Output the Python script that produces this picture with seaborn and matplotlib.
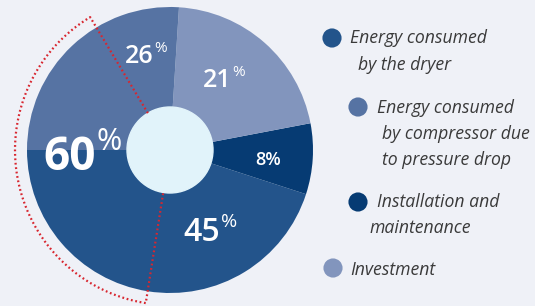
import numpy as np
import pandas as pd
import seaborn as sns
import matplotlib.pyplot as plt

# slice data, counter-clockwise from the left horizontal
labels = ["Energy consumed by the dryer", "Installation and maintenance",
          "Investment", "Energy consumed by compressor due to pressure drop"]
shares = [45, 8, 21, 26]
colors = ["#23548b", "#063b73", "#8295bd", "#5673a3"]

# share of the highlighted group (dryer + compressor part)
group_share = 60

# legend rows (text lines, in reference order)
legend_lines = [
    ["Energy consumed", "by the dryer"],
    ["Energy consumed", "by compressor due", "to pressure drop"],
    ["Installation and", "maintenance"],
    ["Investment"],
]
legend_colors = ["#23548b", "#5673a3", "#063b73", "#8295bd"]

sns.set_theme(style="white")
plt.rcParams["font.family"] = ["Open Sans", "DejaVu Sans"]

bg = "#eff1f7"
fig = plt.figure(figsize=(5.35, 3.06), dpi=100)
fig.patch.set_facecolor(bg)
ax = fig.add_axes([0, 0, 1, 1])
ax.set_facecolor(bg)

cx, cy, R = 170, 156, 143
wedges, _ = ax.pie(shares, colors=colors, startangle=180, counterclock=True,
                   center=(cx, cy), radius=R, frame=True,
                   wedgeprops=dict(linewidth=0))
ax.add_patch(plt.Circle((cx, cy), 43, color="#e1f3fa", zorder=3))

# red dotted outline of the 60 % group
red = "#d8262f"
a0, a1, r_in, r_out = 121, 261, 43, 155
th = np.radians(np.linspace(a0, a1, 200))
xs = np.concatenate([[cx + r_in * np.cos(th[0])], cx + r_out * np.cos(th),
                     [cx + r_in * np.cos(th[-1])]])
ys = np.concatenate([[cy + r_in * np.sin(th[0])], cy + r_out * np.sin(th),
                     [cy + r_in * np.sin(th[-1])]])
ax.plot(xs, ys, color=red, lw=1.6, linestyle=(0, (0.8, 1.2)), zorder=4)

# percent labels: (value, x of right edge of number, baseline y, size, pct size, weight)
pct_specs = [
    (shares[3], 153, 306 - 63, 18, 11, "semibold"),
    (shares[2], 231, 306 - 87, 18, 11, "semibold"),
    (shares[0], 220, 306 - 241, 23, 14, "semibold"),
    (group_share, 96, 306 - 170, 33, 22, "bold"),
]
for val, x, y, fs, ps, w in pct_specs:
    ax.text(x, y, f"{val}", color="white", fontsize=fs, fontweight=w,
            ha="right", va="baseline", zorder=5)
    ax.text(x + 1, y + fs * 0.6, "%", color="white", fontsize=ps,
            ha="left", va="baseline", zorder=5)
ax.text(281, 306 - 165, f"{shares[1]}%", color="white", fontsize=13,
        fontweight="semibold", ha="right", va="baseline", zorder=5)

# legend
dot_pos = [(332, 306 - 38), (358, 306 - 107), (358, 306 - 202), (333, 306 - 268)]
text_pos = [
    [(350, 306 - 43), (358, 306 - 70)],
    [(377, 306 - 113), (382, 306 - 139), (382, 306 - 165)],
    [(377, 306 - 207), (369, 306 - 233)],
    [(350, 306 - 275)],
]
dots = pd.DataFrame({"x": [p[0] for p in dot_pos], "y": [p[1] for p in dot_pos],
                     "c": legend_colors})
sns.scatterplot(data=dots, x="x", y="y", hue="c", palette=dict(zip(legend_colors, legend_colors)),
                s=190, edgecolor="none", legend=False, ax=ax, zorder=5)
for lines, pos in zip(legend_lines, text_pos):
    for line, (x, y) in zip(lines, pos):
        ax.text(x, y, line, fontsize=12.7, fontstyle="italic", color="#3a3a3a",
                ha="left", va="baseline")

ax.set_xlim(0, 535)
ax.set_ylim(0, 306)
ax.set_aspect("equal")
ax.axis("off")
fig.savefig("out.png", dpi=100, facecolor=bg)
